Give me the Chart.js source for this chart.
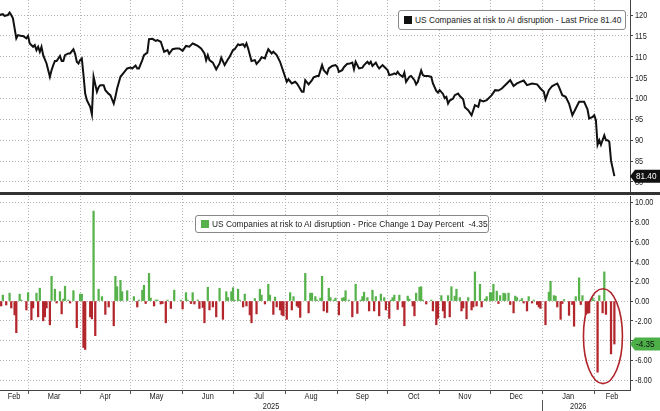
<!DOCTYPE html>
<html>
<head>
<meta charset="utf-8">
<script src="https://cdn.jsdelivr.net/npm/chart.js@4.4.1/dist/chart.umd.min.js"></script>
<style>
  body { margin: 0; background: #fff; width: 660px; height: 411px; overflow: hidden; position: relative;
         font-family: 'Liberation Sans', sans-serif; }
  #top { position: absolute; left: 0; top: 0; }
  #bot { position: absolute; left: 0; top: 196px; }
  #sep { position: absolute; left: 0; top: 192px; width: 660px; height: 3px; background: #333; }
  .legend { position: absolute; box-sizing: border-box; background: #fff; border: 1px solid #888; border-radius: 3px;
            font-size: 9.5px; color: #222; white-space: nowrap; overflow: hidden; }
  .legend i { position: absolute; left: 5px; width: 8px; height: 8px; }
  .legend span { position: absolute; left: 16px; transform: scaleX(0.88); transform-origin: 0 50%; }
</style>
</head>
<body>
<canvas id="top" width="660" height="192"></canvas>
<div id="sep"></div>
<canvas id="bot" width="660" height="215"></canvas>
<div class="legend" id="legTop" style="left:398px;top:10px;width:228px;height:20px"></div>
<div class="legend" id="legBot" style="left:195px;top:215px;width:294px;height:18px"></div>

<script>
// days counted from 1 Jan 2025
const priceDays = [
  42,44,45,47,48,49,50,51,52,53, 55,56,58,59,60,62,63,64,65,66, 67,68,70,72,73,74,75,76,78,79,
  80,81,83,84,86,87,88,89,90,91, 92,93,94,96,97,98,100,101,102,104, 105,107,108,110,111,112,114,116,118,120,
  121,123,124,125,127,128,130,131,133,135, 136,138,140,142,143,145,147,149,151,153,
  155,157,158,160,162,164,165,166,167,169, 171,173,174,176,178,179,181,182,184,185,
  187,188,189,190,192,194,195,197,198,200, 201,202,204,205,207,209,211,213,214,216,
  218,219,220,222,223,224,226,228,229,231, 232,234,235,237,238,240,242,243,244,246,
  247,249,250,252,253,254,255,256,258,259, 261,262,263,264,266,267,268,270,271,273,
  274,276,277,278,279,280,282,283,284,286, 287,289,290,291,293,294,295,297,299,300,
  302,303,304,306,307,308,309,310,312,313, 315,316,318,319,321,323,325,327,328,330,
  332,335,337,339,341,344,346,348,350,352, 354,356,359,362,364,366,367,369,371,374,
  375,377,379,381,383,385,387,390,392,393, 395,396,397,398,399,400,402,403,404,405,
  406,408
];
const priceValues = [
  120.0,120.2,119.8,120.0,120.6,120.0,119.2,116.8,114.4,115.2, 115.0,115.0,114.4,115.0,113.2,112.4,112.8,111.6,112.4,111.2,
  112.4,110.4,108.4,105.2,106.8,108.0,109.0,109.0,110.2,109.0,
  109.0,110.4,110.8,110.8,111.8,110.7,108.8,108.4,109.2,109.6, 105.6,101.2,99.6,98.0,96.2,105.2,101.6,102.7,103.2,103.2,
  102.0,101.1,100.8,98.8,100.4,102.4,105.2,106.2,107.2,107.4,
  107.2,107.9,107.2,107.2,109.2,110.4,111.0,114.2,114.3,113.8, 114.0,113.6,111.2,111.6,110.7,111.8,112.0,112.0,111.4,112.6,
  112.4,113.2,113.0,112.6,112.0,110.8,109.2,110.4,109.2,108.6, 107.0,108.4,109.8,108.0,109.4,110.0,111.6,111.8,113.0,112.8,
  113.0,112.4,113.2,112.0,109.0,109.2,108.3,109.2,109.9,109.6, 110.8,111.8,110.8,111.2,110.4,108.8,106.4,104.0,104.6,103.6,
  104.0,103.6,103.0,101.6,101.6,104.4,103.4,104.4,105.1,105.4, 105.4,108.0,106.8,105.9,107.2,107.8,108.0,107.6,106.4,106.8,
  107.5,108.3,108.3,108.6,107.0,108.8,108.0,107.2,107.4,108.0, 108.8,108.3,108.8,107.8,108.6,107.8,107.2,108.0,107.6,106.8,
  105.6,105.8,106.0,105.8,106.4,105.8,105.2,106.2,104.0,105.2, 105.4,104.4,103.4,104.0,106.7,105.6,105.4,105.4,105.2,103.6,
  101.8,101.4,102.0,101.1,100.1,100.4,98.8,99.5,100.0,100.8, 101.2,100.6,99.8,97.9,97.2,96.0,98.4,98.0,99.6,99.3,
  99.6,100.8,102.0,101.9,102.4,103.6,104.4,103.0,103.6,104.0, 104.3,103.2,103.6,103.4,102.4,101.6,99.8,102.0,103.0,103.6,
  102.8,100.8,100.4,98.8,96.0,97.6,99.2,99.2,97.4,95.2, 95.6,96.0,94.8,88.9,90.0,88.9,91.2,90.0,90.0,89.6,
  85.1,81.4
];
const changeDays = [
  43,44,46,48,49,51,52,54,55,58, 59,61,62,64,65,66,68,69,70,72, 73,75,76,78,79,80,81,83,84,86,
  88,90,91,92,93,96,97,98,99,101, 103,105,107,110,111,112,114,115,118,122, 124,125,127,128,129,131,132,134,135,136,
  138,139,141,142,144,146,150,151,153,154, 156,157,158,160,161,163,164,166,167,169,
  171,173,175,177,178,180,181,182,184,185, 187,188,189,191,192,194,195,197,198,200,
  202,203,205,206,207,209,210,211,213,215, 216,217,219,220,221,224,226,227,228,230,
  231,233,234,235,237,238,239,241,242,244, 246,247,248,250,252,254,255,257,258,259,
  261,262,264,265,266,268,269,271,272,274, 275,276,277,279,280,282,283,285,286,288,
  289,290,292,293,294,296,299,300,302,303, 305,306,307,309,310,311,313,314,316,317,
  318,320,321,323,324,325,326,328,329,331, 332,334,335,336,338,339,340,342,343,345,
  346,348,349,350,352,353,354,356,357,359, 360,362,363,364,367,369,370,372,373,374,
  376,377,378,381,383,384,385,387,388,389, 391,392,393,395,396,398,399,401,402,403,
  406,408
];
const changeValues = [
  -0.5,0.6,-0.4,0.8,-0.7,-1.4,-3.2,0.7,0.1,-0.9, 0.85,-1.9,-0.7,0.8,-1.6,1.3,-2.0,-1.6,-0.7,-2.4,
  2.5,1.2,-0.2,0.95,-1.3,0.2,1.5,0.1,-0.2,1.05,
  -2.7,0.7,0.7,-4.7,-4.9,-1.6,-1.8,9.1,-3.5,1.2, 0.45,-1.35,-0.6,-2.5,2.5,1.45,2.1,0.95,1.05,0.45,
  -0.6,0.1,1.1,1.6,-0.25,2.8,0.3,-0.5,0.1,0.1,
  -0.3,-0.25,-2.2,0.1,-0.75,1.1,0.1,-0.8,0.85,0.1, -0.25,0.85,-0.3,0.1,-0.75,-0.65,-2.2,1.4,-0.9,-0.6,
  -1.6,1.3,-1.85,0.95,0.35,0.95,1.35,0.1,1.2,0.1, -0.6,0.7,-0.5,-1.4,-2.2,0.25,-1.3,1.2,0.6,-0.3,
  1.7,0.6,-1.35,0.4,-0.6,-0.9,-1.4,-1.5,-1.85,0.85, -0.9,0.45,-0.5,-0.65,-1.65,2.8,-1.2,0.8,0.8,0.45,
  0.1,0.3,2.5,-1.0,-1.15,1.3,0.35,0.1,0.3,-1.4, 0.3,0.35,1.05,0.1,-1.6,1.7,-1.25,0.1,0.45,0.9,
  0.35,-1.0,1.1,-1.0,0.45,-1.5,0.7,0.35,-0.9,-1.75, 0.1,0.35,0.6,-0.85,0.6,-0.6,-2.5,0.5,0.2,-0.5,
  -1.5,0.8,1.4,1.45,0.1,-0.3,0.1,-1.0,-2.4,-1.75, 0.55,-1.0,-1.7,0.55,-1.6,1.45,0.5,1.2,0.35,-1.0,
  -0.7,-1.8,0.35,-0.9,-0.6,2.95,-0.5,1.7,-0.6,0.2, 0.45,0.85,0.85,1.7,1.0,-0.25,0.55,0.8,0.75,0.8,
  -0.35,-1.2,0.5,0.35,0.1,0.25,-0.2,-1.0,0.45,-0.2, 0.1,-0.35,-0.6,-0.75,-2.4,0.9,2.0,0.55,0.5,-0.6,
  -1.85,-0.25,0.15,-1.45,-0.35,-2.55,0.45,2.35,-0.35,0.55, -1.35,-1.25,-1.2,0.35,0.1,-7.2,0.55,-1.2,2.95,-1.35,
  -5.35,-4.35
];

const monthStarts = ['2025-02-01','2025-03-01','2025-04-01','2025-05-01','2025-06-01','2025-07-01','2025-08-01',
  '2025-09-01','2025-10-01','2025-11-01','2025-12-01','2026-01-01','2026-02-01','2026-03-01'];
const monthNames = ['Feb','Mar','Apr','May','Jun','Jul','Aug','Sep','Oct','Nov','Dec','Jan','Feb'];
const yearStarts = ['2025-01-01','2026-01-01','2027-01-01'];
const yearNames = ['2025','2026'];
const priceTicks = [80,85,90,95,100,105,110,115,120];
const changeTicks = [-8,-6,-4,-2,0,2,4,6,8,10];

const seriesName = 'US Companies at risk to AI disruption';
const X_MIN = 42.3, X_MAX = 417.3;       // visible date window (days)
const PRICE_MIN = 77.6, PRICE_MAX = 123.6;
const CHANGE_MIN = -9.0, CHANGE_MAX = 10.63;
const ringCenter = { day: 401.2, value: -3.55 }, ringHalf = { days: 11.6, value: 4.8 };

const FONT = "'Liberation Sans', sans-serif";
const SQUEEZE = 0.82;                      // narrow look of the terminal font
const GREEN = '#57b24c', RED = '#b3262c', GRID = '#b4b4b4';

const dayOf = s => (Date.parse(s) - Date.parse('2025-01-01')) / 864e5;
const lastPrice = priceValues[priceValues.length - 1];
const lastChange = changeValues[changeValues.length - 1];

document.getElementById('legTop').innerHTML =
  '<i style="background:#111;top:5px"></i><span style="top:3px">' + seriesName + ' - Last Price ' + lastPrice.toFixed(2) + '</span>';
document.getElementById('legBot').innerHTML =
  '<i style="background:' + GREEN + ';top:4px"></i><span style="top:2px">' + seriesName +
  ' - Price Change 1 Day Percent &nbsp;' + lastChange.toFixed(2) + '</span>';

function narrowText(ctx, text, x, y, align, size, sx) {
  ctx.save();
  ctx.font = size + 'px ' + FONT;
  ctx.textAlign = align;
  ctx.textBaseline = 'middle';
  ctx.translate(x, y);
  ctx.scale(sx, 1);
  ctx.fillText(text, 0, 0);
  ctx.restore();
}

// month boundaries get a grid line, month middles get the label
function monthTicks() {
  const t = [];
  for (let i = 0; i < monthNames.length; i++) {
    const s = dayOf(monthStarts[i]), e = dayOf(monthStarts[i + 1]);
    if (s > X_MIN) t.push({ value: s, name: '', grid: true });
    t.push({ value: (Math.max(s, X_MIN) + Math.min(e, X_MAX)) / 2, name: monthNames[i], grid: false });
  }
  return t;
}

function xScale(bottom) {
  return {
    type: 'linear', min: X_MIN, max: X_MAX, offset: false,
    afterBuildTicks: s => { s.ticks = monthTicks(); },
    afterFit: s => { s.height = bottom ? 21 : 0; s.paddingLeft = 0; s.paddingRight = 0; },
    grid: {
      offset: false,
      color: c => (c.tick && c.tick.grid) ? GRID : 'transparent',
      tickColor: c => (c.tick && c.tick.grid) ? '#555' : 'transparent',
      drawTicks: bottom, tickLength: 4
    },
    border: { display: bottom, color: '#444', dash: [1, 2] },
    ticks: { display: false }
  };
}

function yScale(min, max, tickList) {
  return {
    position: 'right', min, max,
    afterBuildTicks: s => { s.ticks = tickList.map(v => ({ value: v })); },
    afterFit: s => { s.width = 30; s.paddingTop = 0; s.paddingBottom = 0; },
    grid: { color: GRID, tickColor: '#444', tickLength: 3 },
    border: { color: '#444', dash: [1, 2] },
    ticks: { display: false }
  };
}

// right-hand labels plus the last-value tag
function axisLabels(fmt, tagValue, tagBg, tagFg, hideNearTag) {
  return {
    id: 'axisLabels',
    afterDraw: c => {
      const { ctx, chartArea, scales: { x, y } } = c;
      const tagY = y.getPixelForValue(tagValue);
      ctx.fillStyle = '#222';
      y.ticks.forEach(t => {
        const py = y.getPixelForValue(t.value);
        if (hideNearTag && Math.abs(py - tagY) < 6) return;
        narrowText(ctx, fmt(t.value), chartArea.right + 5, py + 0.5, 'left', 9, SQUEEZE);
      });
      if (c.canvas.id === 'bot') {
        x.ticks.forEach(t => {
          if (t.name) narrowText(ctx, t.name, x.getPixelForValue(t.value), chartArea.bottom + 7, 'center', 9, SQUEEZE);
        });
      }
      // tag
      const x0 = chartArea.right + 1, h = 13;
      ctx.save();
      ctx.fillStyle = tagBg;
      ctx.beginPath();
      ctx.moveTo(x0 - 1, tagY);
      ctx.lineTo(x0 + 4, tagY - h / 2);
      ctx.lineTo(c.width, tagY - h / 2);
      ctx.lineTo(c.width, tagY + h / 2);
      ctx.lineTo(x0 + 4, tagY + h / 2);
      ctx.closePath();
      ctx.fill();
      ctx.fillStyle = tagFg;
      narrowText(ctx, tagValue.toFixed(2), x0 + 5, tagY + 0.5, 'left', 9.5, 0.86);
      ctx.restore();
    }
  };
}

new Chart(document.getElementById('top'), {
  type: 'line',
  data: {
    datasets: [{
      data: priceDays.map((d, i) => ({ x: d, y: priceValues[i] })),
      borderColor: '#111', borderWidth: 2, pointRadius: 0, tension: 0
    }]
  },
  options: {
    responsive: false, animation: false, devicePixelRatio: 1,
    layout: { padding: 0 },
    plugins: { legend: { display: false }, tooltip: { enabled: false } },
    scales: { x: xScale(false), y: yScale(PRICE_MIN, PRICE_MAX, priceTicks) }
  },
  plugins: [axisLabels(v => String(v), lastPrice, '#111', '#fff', false)]
});

new Chart(document.getElementById('bot'), {
  type: 'bar',
  data: {
    datasets: [{
      data: changeDays.map((d, i) => ({ x: d, y: changeValues[i] })),
      backgroundColor: c => c.parsed.y >= 0 ? GREEN : RED,
      barThickness: 1.6, borderWidth: 0
    }]
  },
  options: {
    responsive: false, animation: false, devicePixelRatio: 1,
    layout: { padding: 0 },
    plugins: { legend: { display: false }, tooltip: { enabled: false } },
    scales: { x: xScale(true), y: yScale(CHANGE_MIN, CHANGE_MAX, changeTicks) }
  },
  plugins: [{
    id: 'extras',
    afterDraw: c => {
      const { ctx, scales: { x, y }, chartArea } = c;
      // circled selloff
      const cx = x.getPixelForValue(ringCenter.day), cy = y.getPixelForValue(ringCenter.value);
      const rx = x.getPixelForValue(ringCenter.day + ringHalf.days) - cx;
      const ry = cy - y.getPixelForValue(ringCenter.value + ringHalf.value);
      ctx.save();
      ctx.strokeStyle = '#b0242a';
      ctx.lineWidth = 1.6;
      ctx.beginPath();
      ctx.ellipse(cx, cy, rx, ry, 0, 0, Math.PI * 2);
      ctx.stroke();
      // year row
      const lastDay = changeDays[changeDays.length - 1];
      ctx.fillStyle = '#222';
      yearNames.forEach((name, i) => {
        const s = dayOf(yearStarts[i]), e = dayOf(yearStarts[i + 1]);
        const mid = (Math.max(s, X_MIN) + Math.min(e, lastDay)) / 2;
        narrowText(ctx, name, x.getPixelForValue(mid), chartArea.bottom + 17, 'center', 9, SQUEEZE);
        if (s > X_MIN) {
          const px = Math.round(x.getPixelForValue(s)) + 0.5;
          ctx.strokeStyle = '#555';
          ctx.lineWidth = 1;
          ctx.beginPath();
          ctx.moveTo(px, chartArea.bottom + 10);
          ctx.lineTo(px, c.height);
          ctx.stroke();
        }
      });
      ctx.restore();
    }
  }, axisLabels(v => v.toFixed(2), lastChange, '#4caf47', '#111', true)]
});
</script>
</body>
</html>
